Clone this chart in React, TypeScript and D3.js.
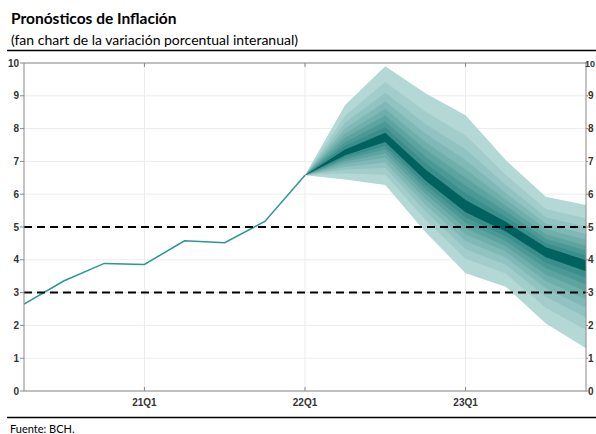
import React from 'react';
import { scaleLinear, area, line, interpolateRgb } from 'd3';

// quarters on the x axis (20Q2 .. 23Q4)
const quarters = [
  '20Q2', '20Q3', '20Q4', '21Q1', '21Q2', '21Q3', '21Q4',
  '22Q1', '22Q2', '22Q3', '22Q4', '23Q1', '23Q2', '23Q3', '23Q4',
];
const tickQuarters = ['21Q1', '22Q1', '23Q1'];
const yTicks = [0, 1, 2, 3, 4, 5, 6, 7, 8, 9, 10];

// observed inflation, 20Q2 .. 22Q1
const histQuarters = ['20Q2', '20Q3', '20Q4', '21Q1', '21Q2', '21Q3', '21Q4', '22Q1'];
const histValues = [2.65, 3.36, 3.89, 3.86, 4.58, 4.52, 5.17, 6.58];

// fan percentiles, 22Q1 .. 23Q4
const fanQuarters = ['22Q1', '22Q2', '22Q3', '22Q4', '23Q1', '23Q2', '23Q3', '23Q4'];
const p05 = [6.58, 6.45, 6.28, 4.85, 3.59, 3.18, 2.06, 1.30];
const p10 = [6.58, 6.63, 6.59, 5.22, 4.03, 3.58, 2.54, 1.86];
const p15 = [6.58, 6.75, 6.81, 5.48, 4.33, 3.85, 2.87, 2.24];
const p20 = [6.58, 6.84, 6.97, 5.68, 4.57, 4.07, 3.13, 2.54];
const p25 = [6.58, 6.92, 7.12, 5.85, 4.78, 4.25, 3.35, 2.80];
const p30 = [6.58, 7.00, 7.25, 6.01, 4.96, 4.42, 3.55, 3.04];
const p35 = [6.58, 7.06, 7.37, 6.15, 5.13, 4.57, 3.74, 3.25];
const p40 = [6.58, 7.13, 7.48, 6.29, 5.29, 4.72, 3.91, 3.46];
const p45 = [6.58, 7.19, 7.59, 6.42, 5.45, 4.86, 4.08, 3.65];
const p55 = [6.58, 7.36, 7.87, 6.75, 5.82, 5.16, 4.38, 3.99];
const p60 = [6.58, 7.48, 8.04, 6.94, 6.03, 5.31, 4.51, 4.13];
const p65 = [6.58, 7.59, 8.22, 7.14, 6.26, 5.48, 4.64, 4.28];
const p70 = [6.58, 7.72, 8.40, 7.36, 6.50, 5.65, 4.78, 4.43];
const p75 = [6.58, 7.85, 8.60, 7.59, 6.75, 5.84, 4.94, 4.60];
const p80 = [6.58, 8.00, 8.83, 7.85, 7.04, 6.04, 5.11, 4.78];
const p85 = [6.58, 8.18, 9.09, 8.14, 7.37, 6.29, 5.30, 5.00];
const p90 = [6.58, 8.40, 9.42, 8.52, 7.79, 6.59, 5.55, 5.27];
const p95 = [6.58, 8.72, 9.90, 9.08, 8.41, 7.04, 5.92, 5.67];

// target range lines
const targetLines = [3, 5];

// bands from outermost to innermost
const bands = [
  [p05, p95], [p10, p90], [p15, p85], [p20, p80], [p25, p75],
  [p30, p70], [p35, p65], [p40, p60], [p45, p55],
];

export default function App() {
  const width = 596;
  const height = 434;
  const plot = { left: 24, right: 586, top: 63, bottom: 391 };

  const xScale = scaleLinear().domain([0, quarters.length - 1]).range([plot.left, plot.right]);
  const yScale = scaleLinear().domain([0, 10]).range([plot.bottom, plot.top]);
  const qx = (q: string) => xScale(quarters.indexOf(q));

  // outer bands fade from light to mid teal, the central band is dark
  const sideColor = interpolateRgb('#b3d8d6', '#3a8e8b');
  const bandColor = (k: number) => (k === bands.length - 1 ? '#00625f' : sideColor(k / (bands.length - 2)));

  const histLine = line<number>()
    .x((d, i) => qx(histQuarters[i]))
    .y(d => yScale(d));

  const tickFont = {
    fontFamily: '"Liberation Sans Narrow", "Liberation Sans", Arial, sans-serif',
    fontSize: 10, fontWeight: 700, fill: '#333',
  };

  return (
    <svg width={width} height={height} style={{ position: 'absolute', left: 0, top: 0 }}>
      {/* titles */}
      <text x={11} y={24} style={{ fontFamily: 'Lato, sans-serif', fontSize: 15.5, fontWeight: 700 }} fill="#000">
        Pronósticos de Inflación
      </text>
      <text x={11} y={45} style={{ fontFamily: 'Lato, sans-serif', fontSize: 14 }} fill="#000">
        (fan chart de la variación porcentual interanual)
      </text>
      <line x1={7} x2={596} y1={50.5} y2={50.5} stroke="#000" strokeWidth={1.5} />

      {/* grid */}
      {yTicks.map(t => (
        <line key={'gy' + t} x1={plot.left} x2={plot.right} y1={yScale(t)} y2={yScale(t)} stroke="#ececec" strokeWidth={1} />
      ))}
      {tickQuarters.map(q => (
        <line key={'gx' + q} x1={qx(q)} x2={qx(q)} y1={plot.top} y2={plot.bottom} stroke="#ececec" strokeWidth={1} />
      ))}

      {/* fan */}
      {bands.map(([lo, hi], k) => {
        const a = area<number>()
          .x((d, i) => qx(fanQuarters[i]))
          .y0((d, i) => yScale(lo[i]))
          .y1((d, i) => yScale(hi[i]));
        return <path key={'b' + k} d={a(lo) || ''} fill={bandColor(k)} />;
      })}

      {/* observed line */}
      <path d={histLine(histValues) || ''} fill="none" stroke="#2a9793" strokeWidth={1.5} />

      {/* target range */}
      {targetLines.map(t => (
        <line key={'t' + t} x1={plot.left} x2={plot.right} y1={yScale(t)} y2={yScale(t)}
          stroke="#000" strokeWidth={2} strokeDasharray="8,5" />
      ))}

      {/* frame */}
      <rect x={plot.left} y={plot.top} width={plot.right - plot.left} height={plot.bottom - plot.top}
        fill="none" stroke="#8a8a8a" strokeWidth={1} />

      {/* y axes */}
      {yTicks.map(t => (
        <g key={'yt' + t}>
          <line x1={plot.left - 4} x2={plot.left} y1={yScale(t)} y2={yScale(t)} stroke="#8a8a8a" />
          <text x={plot.left - 5} y={yScale(t) + 3.5} textAnchor="end" style={tickFont}>{t}</text>
          <line x1={plot.right} x2={plot.right + 2} y1={yScale(t)} y2={yScale(t)} stroke="#8a8a8a" />
          {t === 10 ? (
            <text x={width - 1} y={yScale(t) + 3.5} textAnchor="end" style={{ ...tickFont, fontSize: 9 }}>{t}</text>
          ) : (
            <text x={plot.right + 2} y={yScale(t) + 3.5} textAnchor="start" style={tickFont}>{t}</text>
          )}
        </g>
      ))}

      {/* x axis */}
      {tickQuarters.map(q => (
        <g key={'xt' + q}>
          <line x1={qx(q)} x2={qx(q)} y1={plot.bottom} y2={plot.bottom - 4} stroke="#8a8a8a" />
          <line x1={qx(q)} x2={qx(q)} y1={plot.top} y2={plot.top + 4} stroke="#8a8a8a" />
          <text x={qx(q)} y={plot.bottom + 15} textAnchor="middle" style={tickFont}>{q}</text>
        </g>
      ))}

      {/* footer */}
      <line x1={7} x2={596} y1={417.5} y2={417.5} stroke="#000" strokeWidth={1.5} />
      <text x={10} y={433} style={{ fontFamily: 'Lato, sans-serif', fontSize: 11 }} fill="#000">Fuente: BCH.</text>
    </svg>
  );
}
